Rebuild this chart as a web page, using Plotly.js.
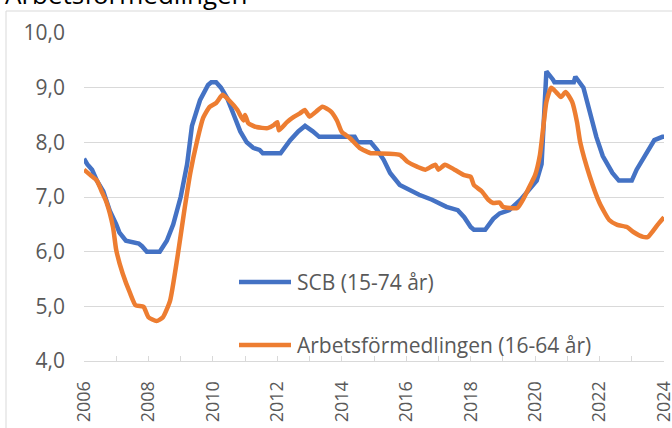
<!DOCTYPE html>
<html>
<head>
<meta charset="utf-8">
<script src="https://cdn.plot.ly/plotly-3.0.1.min.js"></script>
<style>html,body{margin:0;padding:0;background:#fff;}#chart{width:672px;height:428px;}</style>
</head>
<body>
<div id="chart"></div>
<script>
// Series names
const seriesNames = ["SCB (15-74 år)", "Arbetsförmedlingen (16-64 år)"];
const chartTitle = "Arbetsförmedlingen";

// SCB (15-74 år): time (decimal year) and value (%)
const scbX = [2006.0,2006.1,2006.25,2006.4,2006.6,2006.8,2007.0,2007.1,2007.3,2007.7,2007.8,2007.95,2008.35,2008.57,2008.77,2009.0,2009.2,2009.35,2009.6,2009.85,2009.95,2010.1,2010.25,2010.45,2010.65,2010.85,2011.05,2011.25,2011.45,2011.55,2012.1,2012.4,2012.65,2012.86,2013.1,2013.3,2014.4,2014.5,2014.9,2015.1,2015.3,2015.5,2015.8,2016.1,2016.4,2016.8,2017.25,2017.6,2017.8,2018.0,2018.1,2018.45,2018.7,2018.9,2019.2,2019.55,2019.75,2020.05,2020.2,2020.25,2020.35,2020.55,2020.6,2021.2,2021.25,2021.5,2021.7,2021.9,2022.1,2022.4,2022.6,2023.0,2023.15,2023.55,2023.7,2023.95,2024.0];
const scbY = [7.7,7.6,7.5,7.3,7.1,6.75,6.5,6.35,6.2,6.15,6.1,6.0,6.0,6.2,6.5,7.0,7.6,8.3,8.77,9.05,9.1,9.1,9.0,8.8,8.5,8.2,8.0,7.9,7.86,7.8,7.8,8.04,8.2,8.3,8.2,8.1,8.1,8.0,8.0,7.86,7.68,7.44,7.22,7.13,7.04,6.95,6.82,6.76,6.63,6.45,6.4,6.4,6.6,6.7,6.76,6.95,7.1,7.3,7.6,8.1,9.3,9.15,9.1,9.1,9.2,9.0,8.55,8.1,7.75,7.44,7.3,7.3,7.5,7.9,8.04,8.1,8.1];

// Arbetsförmedlingen (16-64 år)
const afX = [2006.0,2006.2,2006.4,2006.55,2006.7,2006.9,2007.0,2007.2,2007.43,2007.6,2007.85,2008.0,2008.25,2008.45,2008.67,2008.9,2009.1,2009.3,2009.5,2009.7,2009.9,2010.1,2010.3,2010.5,2010.75,2010.95,2011.0,2011.1,2011.35,2011.7,2011.9,2012.0,2012.05,2012.3,2012.5,2012.7,2012.85,2013.0,2013.2,2013.4,2013.65,2013.85,2014.0,2014.25,2014.55,2014.9,2015.0,2015.8,2016.05,2016.35,2016.6,2016.9,2017.0,2017.2,2017.5,2017.8,2018.0,2018.1,2018.35,2018.55,2018.7,2018.9,2019.0,2019.45,2019.65,2019.85,2020.0,2020.15,2020.25,2020.35,2020.5,2020.65,2020.8,2020.95,2021.15,2021.3,2021.4,2021.7,2022.0,2022.3,2022.55,2022.85,2023.05,2023.35,2023.5,2023.8,2024.0];
const afY = [7.5,7.4,7.3,7.1,6.9,6.45,6.03,5.6,5.24,5.02,4.99,4.8,4.73,4.8,5.1,5.9,6.7,7.44,8.0,8.45,8.65,8.72,8.87,8.77,8.6,8.4,8.5,8.35,8.28,8.26,8.32,8.37,8.22,8.37,8.46,8.53,8.59,8.47,8.56,8.65,8.57,8.4,8.19,8.08,7.9,7.8,7.8,7.77,7.64,7.55,7.5,7.59,7.5,7.59,7.5,7.4,7.37,7.22,7.1,6.95,6.89,6.9,6.82,6.8,6.98,7.22,7.4,7.77,8.26,8.74,9.0,8.92,8.83,8.92,8.74,8.37,8.0,7.37,6.89,6.58,6.49,6.45,6.36,6.27,6.27,6.49,6.63];

// Axis ticks
const yTicks = [4,5,6,7,8,9,10];
const xTickVals = [2006,2008,2010,2012,2014,2016,2018,2020,2022,2024];
const xTickText = ["2006","2008","2010","2012","2014","2016","2018","2020","2022","2024"];

const BLUE = "#4472C4", ORANGE = "#ED7D31", TXT = "#595959", GRID = "#D9D9D9";
const FONT = "Open Sans, sans-serif";

const traces = [
  {x: scbX, y: scbY, type: "scatter", mode: "lines", name: seriesNames[0],
   line: {color: BLUE, width: 4.5, shape: "linear"}, showlegend: false},
  {x: afX, y: afY, type: "scatter", mode: "lines", name: seriesNames[1],
   line: {color: ORANGE, width: 4.5, shape: "spline", smoothing: 0.5}, showlegend: false}
];

// pixel helpers for decorations (layout only)
const L = 84, R = 8, T = 33, B = 67, W = 672, H = 428;
const pw = W - L - R, ph = H - T - B;
const px = v => (v - L) / pw;
const py = v => (H - B - v) / ph;

const layout = {
  width: W, height: H,
  margin: {l: L, r: R, t: T, b: B, pad: 0},
  paper_bgcolor: "#fff", plot_bgcolor: "#fff",
  separators: ", ",
  font: {family: FONT, color: TXT, size: 17},
  xaxis: {
    range: [2006, 2024], tickvals: xTickVals, ticktext: xTickText,
    tickangle: -90, showgrid: false, zeroline: false,
    showline: true, linecolor: GRID, linewidth: 1,
    ticks: "inside", ticklen: 5, tickcolor: GRID, tickwidth: 1,
    minor: {dtick: 1, tick0: 2006, ticks: "inside", ticklen: 5, tickcolor: GRID, showgrid: false},
    tickfont: {family: FONT, size: 18, color: TXT},
    ticklabelstandoff: 12, ticklabeloverflow: "allow", fixedrange: true
  },
  yaxis: {
    range: [4, 10], tickvals: yTicks, tickformat: ".1f",
    showgrid: true, gridcolor: GRID, gridwidth: 1, zeroline: false,
    showline: false, ticks: "",
    tickfont: {family: FONT, size: 21, color: TXT},
    ticklabelstandoff: 18, fixedrange: true
  },
  shapes: [
    {type: "rect", xref: "paper", yref: "paper", x0: px(6), x1: px(700), y0: py(460), y1: py(11),
     line: {color: GRID, width: 1}, fillcolor: "rgba(0,0,0,0)", layer: "below"},
    {type: "line", xref: "paper", yref: "paper", x0: px(239), x1: px(291), y0: py(282), y1: py(282),
     line: {color: BLUE, width: 4.5}},
    {type: "line", xref: "paper", yref: "paper", x0: px(239), x1: px(291), y0: py(345), y1: py(345),
     line: {color: ORANGE, width: 4.5}}
  ],
  annotations: [
    {text: chartTitle, xref: "paper", yref: "paper", x: px(3), y: py(-6.5), xanchor: "left", yanchor: "middle",
     showarrow: false, font: {family: FONT, size: 26, color: "#000"}},
    {text: seriesNames[0], xref: "paper", yref: "paper", x: px(295), y: py(282), xanchor: "left", yanchor: "middle",
     showarrow: false, font: {family: FONT, size: 21, color: TXT}},
    {text: seriesNames[1], xref: "paper", yref: "paper", x: px(295), y: py(345), xanchor: "left", yanchor: "middle",
     showarrow: false, font: {family: FONT, size: 21, color: TXT}}
  ]
};

Plotly.newPlot("chart", traces, layout, {displayModeBar: false, staticPlot: true});
</script>
</body>
</html>
